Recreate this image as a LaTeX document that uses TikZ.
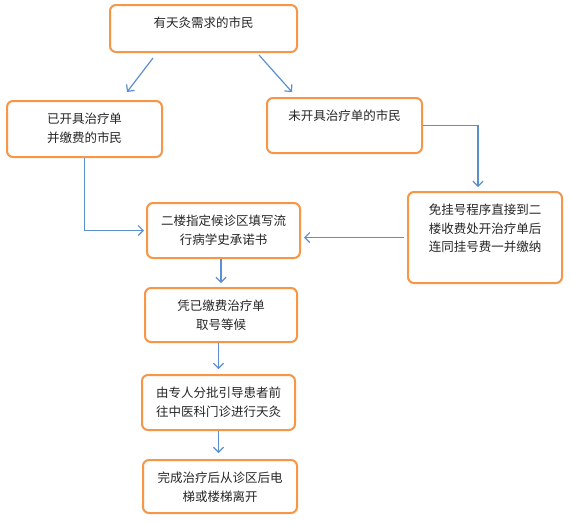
\documentclass[tikz,border=0pt]{standalone}
\usepackage{fontspec}
\setmainfont{Noto Sans CJK SC}
\usetikzlibrary{arrows.meta, positioning, calc}
\definecolor{corange}{HTML}{F79646}
\definecolor{cblue}{HTML}{5B8FD0}
\definecolor{ctext}{HTML}{262626}
\tikzset{
  every picture/.style={x=1pt, y=-1pt, line width=1.2pt},
  box/.style={draw=corange, line width=2pt, fill=white, rounded corners=6pt, inner sep=0pt},
  txt/.style={text=ctext, font=\fontsize{12.5}{18.5}\selectfont, align=center, inner sep=0pt},
  arrow/.style={-{Straight Barb[length=5pt, width=10pt]}, draw=cblue, line width=1.2pt},
}

\begin{document}
\begin{tikzpicture}
  \useasboundingbox (0,0) rectangle (571,523);

  % ---- boxes (centre, size in px of the page)
  \node[box, minimum width=187pt, minimum height=47pt] (b1) at (203.5,28.5) {};
  \node[box, minimum width=155pt, minimum height=56pt] (b2) at (84.5,129) {};
  \node[box, minimum width=155pt, minimum height=55pt] (b3) at (344.5,125.5) {};
  \node[box, minimum width=154pt, minimum height=91pt] (b4) at (485,237.5) {};
  \node[box, minimum width=153pt, minimum height=55pt] (b5) at (223.5,230.5) {};
  \node[box, minimum width=152pt, minimum height=54pt] (b6) at (221,315) {};
  \node[box, minimum width=153pt, minimum height=55pt] (b7) at (218.5,402.5) {};
  \node[box, minimum width=154pt, minimum height=53pt] (b8) at (220,486.5) {};

  % ---- texts, hung from the top of each box
  \node[txt, below=12.5pt of b1.north] (t1) {有天灸需求的市民};
  \node[txt, below=12.5pt of b2.north] (t2) {已开具治疗单\\并缴费的市民};
  \node[txt, below=12.5pt of b3.north] (t3) {未开具治疗单的市民};
  \node[txt, below=12.5pt of b4.north] (t4) {免挂号程序直接到二\\楼收费处开治疗单后\\连同挂号费一并缴纳};
  \node[txt, below=12.5pt of b5.north] (t5) {二楼指定候诊区填写流\\行病学史承诺书};
  \node[txt, below=12.5pt of b6.north] (t6) {凭已缴费治疗单\\取号等候};
  \node[txt, below=12.5pt of b7.north] (t7) {由专人分批引导患者前\\往中医科门诊进行天灸};
  \node[txt, below=12.5pt of b8.north] (t8) {完成治疗后从诊区后电\\梯或楼梯离开};

  % ---- connectors
  \draw[arrow] ([xshift=-50.5pt, yshift=-5pt]b1.south) -- ([xshift=42.5pt, yshift=8pt]b2.north);
  \draw[arrow] ([xshift=55.5pt, yshift=-2pt]b1.south) -- ([xshift=-52.5pt, yshift=5pt]b3.north);
  \draw[arrow, shorten >=2pt] (b2.south) |- (b5.west);
  \draw[arrow] (b3.east) -| ([xshift=-7pt, yshift=4pt]b4.north);
  \draw[arrow, shorten <=3pt, shorten >=3pt] (b4.west) -- (b4.west -| b5.east);
  \draw[arrow, shorten >=4pt] (b5.south -| b6.north) -- (b6.north);
  \draw[arrow, shorten >=5pt] (b6.south -| b7.north) -- (b7.north);
  \draw[arrow, shorten >=6pt] (b7.south) -- (b7.south |- b8.north);
\end{tikzpicture}
\end{document}
